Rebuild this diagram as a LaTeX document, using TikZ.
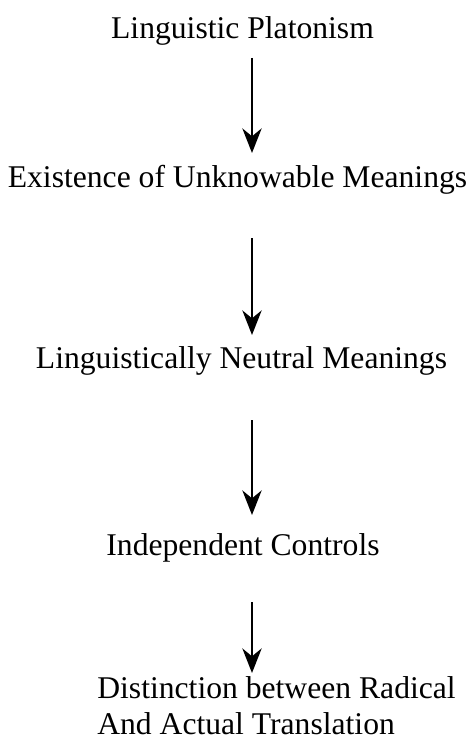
\documentclass[tikz,border=0pt]{standalone}
\usepackage{fontspec}
\setmainfont{Liberation Serif}
\usepackage{tikz}
\usetikzlibrary{arrows.meta, positioning}
\tikzset{
  claim/.style={inner sep=0pt, anchor=base, font=\fontsize{18}{20}\selectfont},
  arrow/.style={-{Stealth[length=14pt, width=11pt, inset=4.5pt]}, line width=1.1pt, color=black}
}

\begin{document}
\begin{tikzpicture}[x=0.02cm, y=-0.02cm]
  \useasboundingbox (0,0) rectangle (476,740);

  % Chain of claims
  \node[claim] (plat) at (242.5,39) {Linguistic Platonism};
  \node[claim] (exist) at (237.5,187) {Existence of Unknowable Meanings};
  \node[claim] (neut) at (241.5,368) {Linguistically Neutral Meanings};
  \node[claim] (indep) at (243,555) {Independent Controls};
  \node[claim, align=left, anchor=base west] (dist) at (97,734) {Distinction between Radical\\And Actual Translation};

  % Arrow ends
  \coordinate (a1s) at (252,58);  \coordinate (a1e) at (252,153);
  \coordinate (a2s) at (252,238); \coordinate (a2e) at (252,335);
  \coordinate (a3s) at (252,420); \coordinate (a3e) at (252,515);
  \coordinate (a4s) at (252,602); \coordinate (a4e) at (252,673);

  \draw[arrow] (a1s) -- (a1e);
  \draw[arrow] (a2s) -- (a2e);
  \draw[arrow] (a3s) -- (a3e);
  \draw[arrow] (a4s) -- (a4e);
\end{tikzpicture}
\end{document}
